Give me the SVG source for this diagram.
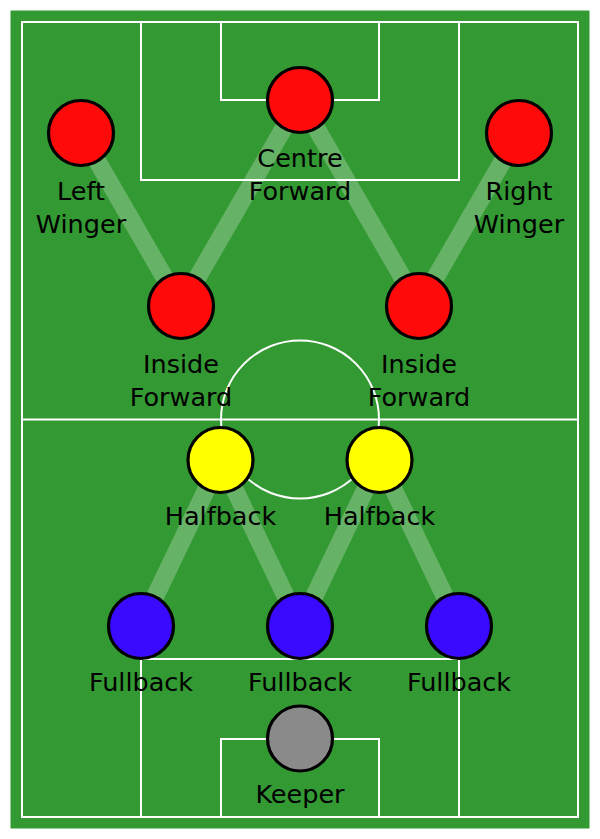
<svg xmlns="http://www.w3.org/2000/svg" width="600" height="839" viewBox="0 0 600 839">
<style>
.pitch{fill:none;stroke:#ffffff;stroke-width:2}
.link{stroke:#ffffff;stroke-opacity:0.25;stroke-width:18;fill:none}
.p{stroke:#000000;stroke-width:3.2}
.fw{fill:#ff0a0a}
.hb{fill:#ffff00}
.fb{fill:#3a0aff}
.gk{fill:#8a8a8a}
.lbl{font-family:"DejaVu Sans",Verdana,sans-serif;font-size:25.5px;fill:#000000;text-anchor:middle}
</style>
<rect x="0" y="0" width="600" height="839" fill="#ffffff"/>
<g id="field">
<rect x="10.5" y="10.5" width="579" height="818" fill="#339933"/>
<rect class="pitch" x="22" y="22" width="556" height="795"/>
<line class="pitch" x1="22" y1="419.5" x2="578" y2="419.5"/>
<circle class="pitch" cx="300" cy="419.5" r="79"/>
<rect class="pitch" x="141" y="22" width="318" height="158"/>
<rect class="pitch" x="221" y="22" width="158" height="78"/>
<rect class="pitch" x="141" y="659" width="318" height="158"/>
<rect class="pitch" x="221" y="739" width="158" height="78"/>
</g>
<g id="connectors">
<line class="link" x1="81" y1="133" x2="181" y2="306"/>
<line class="link" x1="300" y1="100" x2="181" y2="306"/>
<line class="link" x1="300" y1="100" x2="419" y2="306"/>
<line class="link" x1="519" y1="133" x2="419" y2="306"/>
<line class="link" x1="220.5" y1="460" x2="141" y2="626"/>
<line class="link" x1="220.5" y1="460" x2="300" y2="626"/>
<line class="link" x1="379.5" y1="460" x2="300" y2="626"/>
<line class="link" x1="379.5" y1="460" x2="459" y2="626"/>
</g>
<g id="left-winger"><circle class="p fw" cx="81" cy="133" r="32.5"/><text class="lbl" x="81" y="200">Left</text><text class="lbl" x="81" y="233">Winger</text></g>
<g id="centre-forward"><circle class="p fw" cx="300" cy="100" r="32.5"/><text class="lbl" x="300" y="167">Centre</text><text class="lbl" x="300" y="200">Forward</text></g>
<g id="right-winger"><circle class="p fw" cx="519" cy="133" r="32.5"/><text class="lbl" x="519" y="200">Right</text><text class="lbl" x="519" y="233">Winger</text></g>
<g id="inside-forward-left"><circle class="p fw" cx="181" cy="306" r="32.5"/><text class="lbl" x="181" y="373">Inside</text><text class="lbl" x="181" y="406">Forward</text></g>
<g id="inside-forward-right"><circle class="p fw" cx="419" cy="306" r="32.5"/><text class="lbl" x="419" y="373">Inside</text><text class="lbl" x="419" y="406">Forward</text></g>
<g id="halfback-left"><circle class="p hb" cx="220.5" cy="460" r="32.5"/><text class="lbl" x="220.5" y="525">Halfback</text></g>
<g id="halfback-right"><circle class="p hb" cx="379.5" cy="460" r="32.5"/><text class="lbl" x="379.5" y="525">Halfback</text></g>
<g id="fullback-left"><circle class="p fb" cx="141" cy="626" r="32.5"/><text class="lbl" x="141" y="691">Fullback</text></g>
<g id="fullback-centre"><circle class="p fb" cx="300" cy="626" r="32.5"/><text class="lbl" x="300" y="691">Fullback</text></g>
<g id="fullback-right"><circle class="p fb" cx="459" cy="626" r="32.5"/><text class="lbl" x="459" y="691">Fullback</text></g>
<g id="keeper"><circle class="p gk" cx="300" cy="738.5" r="32.5"/><text class="lbl" x="300" y="803">Keeper</text></g>
</svg>
